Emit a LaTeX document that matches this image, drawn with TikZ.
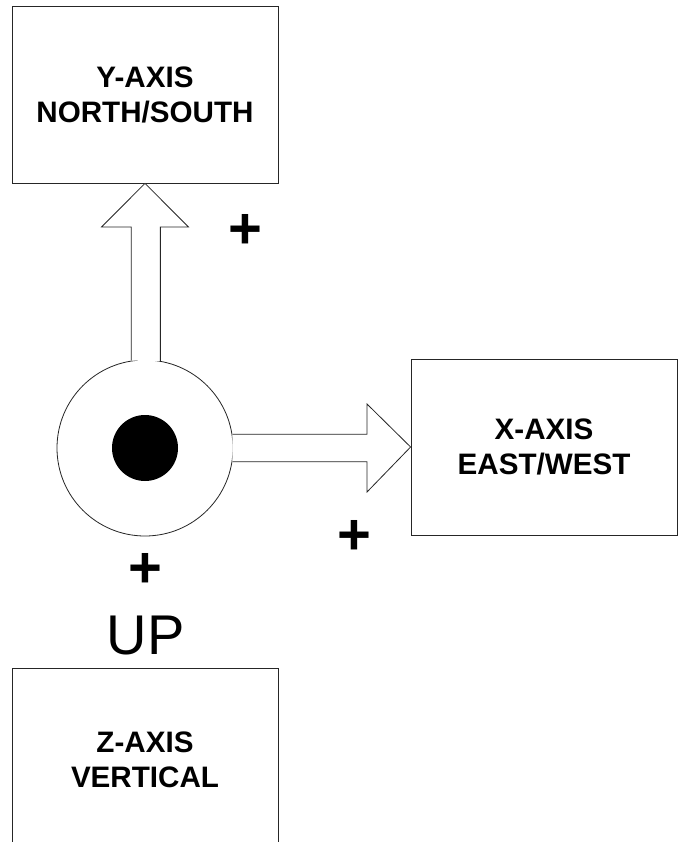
\documentclass[tikz,border=0pt]{standalone}
\usepackage{fontspec}
\setmainfont{Liberation Sans}
\begin{document}
\begin{tikzpicture}[x=1pt,y=-1pt,
  axisbox/.style={draw=black!85, line width=0.8pt, fill=white, rectangle,
    minimum width=266pt, inner sep=0pt, align=center,
    font=\bfseries\fontsize{29.6}{35}\selectfont},
  fatarrow/.style={draw=black!85, line width=0.8pt, fill=white, line join=miter},
  plusmark/.style={font=\bfseries\fontsize{58}{58}\selectfont, inner sep=0pt},
  uplabel/.style={font=\fontsize{56}{56}\selectfont, inner sep=0pt}]
\clip (0,0) rectangle (680,842);
\fill[white] (0,0) rectangle (680,842);

% axis boxes
\node[axisbox, minimum height=177pt] (ybox) at (145,94.5) {Y-AXIS\\NORTH/SOUTH};
\node[axisbox, minimum height=176pt] (xbox) at (544,447) {X-AXIS\\EAST/WEST};
\node[axisbox, minimum height=184pt] (zbox) at (145,760) {Z-AXIS\\VERTICAL};

% origin: ring with the dot pointing out of the page
\node[circle, draw=black!85, line width=0.8pt, minimum size=176pt, inner sep=0pt] (ring) at (145,448) {};
\node[circle, fill=black, minimum size=66pt, inner sep=0pt] (dot) at (ring.center) {};

% hollow arrow towards north
\draw[fatarrow] (ring.99.8) -- (ring.99.8 |- 0,227) -- ([xshift=-43.5pt]ybox.south |- 0,227)
  -- (ybox.south) -- ([xshift=43.5pt]ybox.south |- 0,227) -- (ring.80.2 |- 0,227) -- (ring.80.2);

% hollow arrow towards east
\draw[fatarrow] (ring.9.8) -- (367,0 |- ring.9.8) -- (367,404) -- (xbox.west)
  -- (367,492) -- (367,0 |- ring.-9.8) -- (ring.-9.8);

% positive directions
\node[plusmark] (py) at (245,231) {+};
\node[plusmark] (px) at (354,537) {+};
\node[plusmark] (pz) at (145,570) {+};
\node[uplabel] (up) at (145.5,635.5) {UP};
\end{tikzpicture}
\end{document}
